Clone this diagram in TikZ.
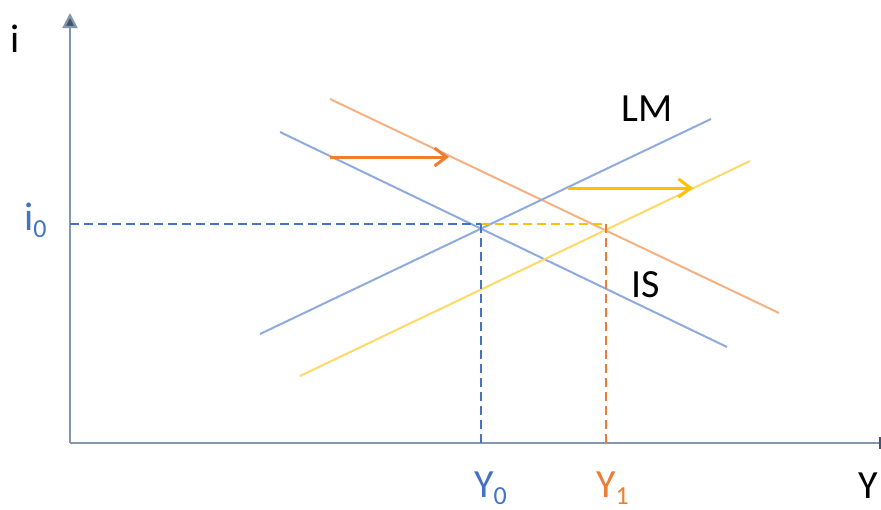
\documentclass[tikz,border=0pt]{standalone}
\usepackage{fontspec}
\setmainfont{Carlito}
\usetikzlibrary{arrows.meta}
\definecolor{axisc}{HTML}{8497B0}
\definecolor{axisdark}{HTML}{44546A}
\definecolor{bluel}{HTML}{8FAADC}
\definecolor{oranl}{HTML}{F4B183}
\definecolor{yell}{HTML}{FFD966}
\definecolor{blued}{HTML}{4472C4}
\definecolor{orand}{HTML}{ED7D31}
\definecolor{yeld}{HTML}{FFC000}
\newcommand\mysubtxt[1]{\raisebox{-7pt}{\fontsize{26}{26}\selectfont #1}}
\tikzset{
  lbl/.style={inner sep=0pt, anchor=base west, text depth=0pt, font=\fontsize{40}{40}\selectfont},
  curve/.style={line width=2pt},
  dashln/.style={line width=2.8pt, dash pattern=on 9pt off 5pt},
  shiftarrow/.style={line width=3pt, -{Straight Barb[length=12pt,width=18pt,line width=3pt]}},
  axis/.style={line width=2.2pt, draw=axisc}
}
\begin{document}
\begin{tikzpicture}[x=1pt,y=-1pt]
\useasboundingbox (0,0) rectangle (881,509);
% axes
\coordinate (O) at (70,443);
\coordinate (ytop) at (70,13);
\coordinate (xend) at (880,443);
\draw[axis, -{Triangle[length=15pt,width=15pt,fill=axisdark]}] (O) -- (ytop);
\draw[axis] (O) -- (xend);
\draw[draw=axisdark, line width=1.8pt] (880,437) -- (880,449);
% curves
\coordinate (is1) at (280,132); \coordinate (is2) at (727,347);
\coordinate (isb1) at (330,99); \coordinate (isb2) at (779,313);
\coordinate (lm1) at (260,334); \coordinate (lm2) at (711,119);
\coordinate (lmb1) at (300,376); \coordinate (lmb2) at (750,161);
\draw[curve, bluel] (is1) -- (is2);
\draw[curve, oranl] (isb1) -- (isb2);
\draw[curve, bluel] (lm1) -- (lm2);
\draw[curve, yell] (lmb1) -- (lmb2);
% dashed guides
\coordinate (i0) at (70,224);
\coordinate (E0) at (481,224);
\coordinate (E1) at (606,224);
\coordinate (Y0) at (481,443);
\coordinate (Y1) at (606,443);
\draw[dashln, blued] (i0) -- (E0);
\draw[dashln, yeld] (E0) -- (E1);
\draw[dashln, blued] (E0) -- (Y0);
\draw[dashln, orand] (E1) -- (Y1);
% shift arrows
\coordinate (a1) at (330,157); \coordinate (a2) at (449,157);
\coordinate (b1) at (568,188); \coordinate (b2) at (693,188);
\draw[shiftarrow, orand] (a1) -- (a2);
\draw[shiftarrow, yeld] (b1) -- (b2);
% labels
\node[lbl, anchor=base] (li) at (15,52) {i};
\node[lbl, text=blued] (li0) at (24,230) {i\mysubtxt{0}};
\node[lbl] (lLM) at (621,121) {LM};
\node[lbl] (lIS) at (631,297) {IS};
\node[lbl, text=blued] (lY0) at (474,497) {Y\mysubtxt{0}};
\node[lbl, text=orand] (lY1) at (596,497) {Y\mysubtxt{1}};
\node[lbl, anchor=base] (lY) at (868,498) {Y};
\end{tikzpicture}
\end{document}
